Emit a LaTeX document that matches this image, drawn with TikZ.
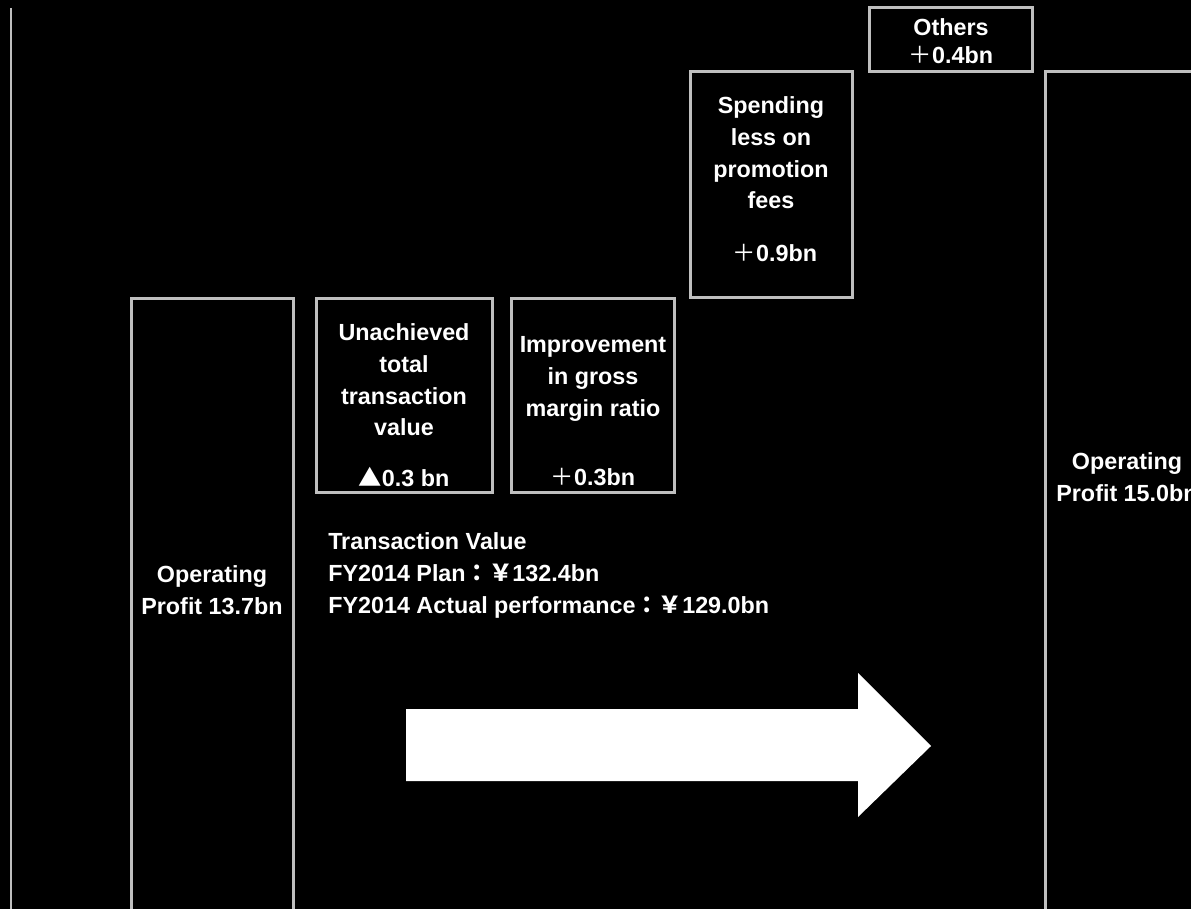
\documentclass[tikz,border=0pt]{standalone}
\usepackage{fontspec}
\setmainfont{Liberation Sans}
\newfontfamily\cjk{Noto Sans CJK JP}
\usetikzlibrary{positioning}
\definecolor{edgegray}{RGB}{191,191,191}
\newcommand{\fwplus}{{\cjk\mdseries ＋}}
\newcommand{\minustri}{{\cjk\mdseries ▲}}

\begin{document}
\begin{tikzpicture}[x=0.75pt,y=-0.75pt,
    every node/.style={text=white,inner sep=0pt,align=center,
        font=\bfseries\fontsize{17.5}{23.8}\selectfont},
    frame/.style={draw=edgegray,line width=2.25pt}
    ]

    % page, black background
    \fill[black] (0,0) rectangle (1191,909);
    \clip (0,0) rectangle (1191,909);

    % axis line on the left
    \draw[edgegray,line width=1.5pt] (11,8) -- (11,909);

    % start and end bars (run off the bottom)
    \draw[frame] (131,930) -- (131,298) -- (293,298) -- (293,930);
    \draw[frame] (1045,930) -- (1045,72) -- (1220,72) -- (1220,930);

    % steps of the bridge
    \draw[frame] (316,298) rectangle (492,492);
    \draw[frame] (511,298) rectangle (674,492);
    \draw[frame] (690,72) rectangle (852,297);
    \draw[frame] (869,8) rectangle (1032,72);

    % labels
    \node (opstart) at (212,590) {Operating\\Profit 13.7bn};
    \node (unach) at (404,380) {Unachieved\\total\\transaction\\value};
    \node (unachval) at (404,477) {\minustri0.3 bn};
    \node (gross) at (593,379) {Improvement\\in gross\\margin ratio};
    \node (grossval) at (593,477) {\fwplus0.3bn};
    \node (promo) at (771,153) {Spending\\less on\\promotion\\fees};
    \node (promoval) at (775,253) {\fwplus0.9bn};
    \node (others) at (951,27) {Others};
    \node (othersval) at (951,55) {\fwplus0.4bn};
    \node (opend) at (1127,477) {Operating\\Profit 15.0bn};

    \node[anchor=west,align=left,
        font=\bfseries\fontsize{17.5}{24}\selectfont] (trval) at (328,575)
        {Transaction Value\\
         FY2014 Plan{\cjk：￥}132.4bn\\
         FY2014 Actual performance{\cjk：￥}129.0bn};

    % big white arrow
    \fill[white] (406,709) -- (858,709) -- (858,673) -- (931,746)
        -- (858,817) -- (858,781) -- (406,781) -- cycle;
\end{tikzpicture}
\end{document}
